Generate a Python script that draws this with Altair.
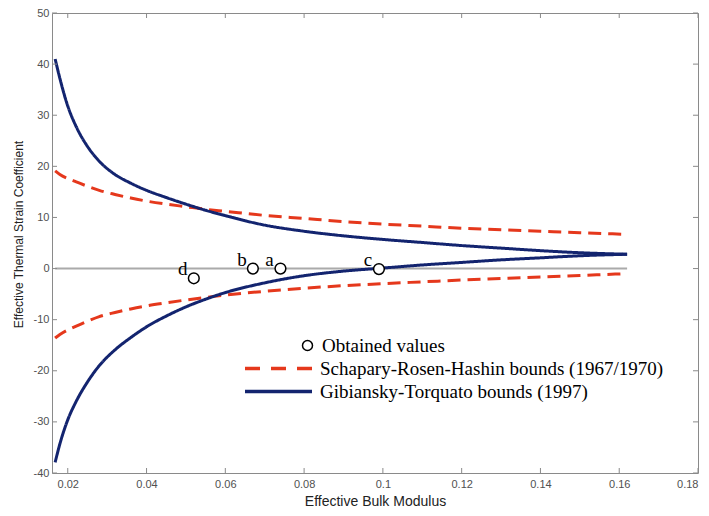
import altair as alt
import pandas as pd

# ---- data ----
X = [0.0168, 0.018, 0.02, 0.022, 0.025, 0.028, 0.032, 0.036, 0.04, 0.045, 0.05,
     0.055, 0.06, 0.07, 0.08, 0.09, 0.1, 0.11, 0.12, 0.13, 0.14, 0.15, 0.162]
GT_UPPER = [41.0, 37.2, 31.8, 28.0, 23.9, 21.0, 18.4, 16.7, 15.3, 13.9, 12.6,
            11.4, 10.35, 8.5, 7.3, 6.4, 5.7, 5.1, 4.5, 4.0, 3.5, 3.1, 2.8]
GT_LOWER = [-37.9, -34.3, -29.6, -26.2, -22.2, -19.0, -15.9, -13.5, -11.4, -9.3, -7.5,
            -6.0, -4.7, -2.8, -1.4, -0.5, 0.1, 0.7, 1.2, 1.7, 2.1, 2.5, 2.8]
SRH_UPPER = [19.1, 18.4, 17.6, 17.0, 16.1, 15.3, 14.5, 13.8, 13.2, 12.6, 12.1,
             11.6, 11.2, 10.4, 9.8, 9.2, 8.7, 8.3, 7.9, 7.6, 7.3, 7.0, 6.7]
SRH_LOWER = [-13.6, -12.9, -12.0, -11.3, -10.3, -9.4, -8.6, -7.9, -7.3, -6.7, -6.15,
             -5.65, -5.2, -4.45, -3.85, -3.35, -2.95, -2.6, -2.25, -1.95, -1.65, -1.35, -1.0]

PT_LABELS = ["a", "b", "c", "d"]
PT_X = [0.074, 0.067, 0.099, 0.052]
PT_Y = [0.0, 0.0, -0.1, -1.9]

X_TICKS = [0.02, 0.04, 0.06, 0.08, 0.1, 0.12, 0.14, 0.16, 0.18]
Y_TICKS = [-40, -30, -20, -10, 0, 10, 20, 30, 40, 50]

SRH = "Schapary-Rosen-Hashin bounds (1967/1970)"
GT = "Gibiansky-Torquato bounds (1997)"
OBT = "Obtained values"

RED = "#e5381c"
BLUE = "#13246f"
GREY = "#8a8a8a"

W, H = 646, 460

rows = []
for name, series, ys in [("srh_u", SRH, SRH_UPPER), ("srh_l", SRH, SRH_LOWER),
                         ("gt_u", GT, GT_UPPER), ("gt_l", GT, GT_LOWER)]:
    for i, (xv, yv) in enumerate(zip(X, ys)):
        rows.append({"curve": name, "series": series, "series2": series, "x": xv, "y": yv, "i": i})
curves = pd.DataFrame(rows)
pts = pd.DataFrame({"label": PT_LABELS, "x": PT_X, "y": PT_Y, "ptser": OBT})
zero = pd.DataFrame({"x": [X[0]], "x2": [X[-1]], "y": [0]})
xt = pd.DataFrame({"t": X_TICKS})
yt = pd.DataFrame({"t": Y_TICKS})

xs = alt.Scale(domain=[0.016, 0.18], nice=False, zero=False)
ys_ = alt.Scale(domain=[-40, 50], nice=False, zero=False)
x_axis = alt.Axis(values=X_TICKS, format="~g", title="Effective Bulk Modulus", grid=False,
                  ticks=False, domain=False, labelPadding=5, titlePadding=5, titleFontSize=14)
y_axis = alt.Axis(values=Y_TICKS, labelExpr="'' + datum.value",
                  title="Effective Thermal Strain Coefficient", grid=False,
                  ticks=False, domain=False, labelPadding=3, titlePadding=8,
                  titleFontSize=12, titleY=221)

leg_common = dict(title=None, orient="none", padding=0, symbolType="stroke", symbolSize=4489,
                  symbolStrokeWidth=3.5, labelFont="Liberation Serif", labelFontSize=19,
                  labelColor="black", labelLimit=600, labelOffset=6)

zero_rule = alt.Chart(zero).mark_rule(color="#aaaaaa", strokeWidth=2).encode(
    x=alt.X("x:Q", scale=xs, axis=x_axis),
    x2="x2:Q",
    y=alt.Y("y:Q", scale=ys_, axis=y_axis),
)

lines = alt.Chart(curves).mark_line(strokeWidth=3, interpolate="monotone").encode(
    x=alt.X("x:Q", scale=xs, axis=x_axis),
    y=alt.Y("y:Q", scale=ys_, axis=y_axis),
    detail="curve:N",
    order="i:Q",
    color=alt.Color("series:N", scale=alt.Scale(domain=[SRH, GT], range=[RED, BLUE]),
                    legend=alt.Legend(values=[SRH], legendX=191, legendY=320,
                                      symbolDash=[15, 11], **leg_common)),
    strokeDash=alt.StrokeDash("series2:N",
                              scale=alt.Scale(domain=[GT, SRH], range=[[1, 0], [13, 7]]),
                              legend=alt.Legend(values=[GT], legendX=191, legendY=343,
                                                symbolStrokeColor=BLUE, **leg_common)),
)

points = alt.Chart(pts).mark_point(size=115, fill="white", fillOpacity=1,
                                   strokeWidth=1.5, opacity=1, shape="circle").encode(
    x=alt.X("x:Q", scale=xs, axis=x_axis),
    y=alt.Y("y:Q", scale=ys_, axis=y_axis),
    stroke=alt.Stroke("ptser:N", scale=alt.Scale(domain=[OBT], range=["black"]),
                      legend=alt.Legend(title=None, orient="none", legendX=246, legendY=323,
                                        padding=0, symbolType="circle", symbolSize=100,
                                        symbolFillColor="white", symbolStrokeWidth=1.5,
                                        symbolOpacity=1,
                                        labelFont="Liberation Serif", labelFontSize=19,
                                        labelColor="black", labelLimit=600, labelOffset=5)),
)

labels = alt.Chart(pts).mark_text(font="Liberation Serif", fontSize=19, color="black",
                                  dx=-11, dy=-9).encode(
    x=alt.X("x:Q", scale=xs, axis=x_axis),
    y=alt.Y("y:Q", scale=ys_, axis=y_axis),
    text="label:N",
)

bottom_ticks = alt.Chart(xt).mark_rule(color=GREY).encode(
    x=alt.X("t:Q", scale=xs, axis=x_axis), y=alt.value(H), y2=alt.value(H - 5))
top_ticks = alt.Chart(xt).mark_rule(color=GREY).encode(
    x=alt.X("t:Q", scale=xs, axis=x_axis), y=alt.value(0), y2=alt.value(5))
left_ticks = alt.Chart(yt).mark_rule(color=GREY).encode(
    y=alt.Y("t:Q", scale=ys_, axis=y_axis), x=alt.value(0), x2=alt.value(5))
right_ticks = alt.Chart(yt).mark_rule(color=GREY).encode(
    y=alt.Y("t:Q", scale=ys_, axis=y_axis), x=alt.value(W), x2=alt.value(W - 5))

chart = alt.layer(
    zero_rule, lines, points, labels, bottom_ticks, top_ticks, left_ticks, right_ticks
).properties(
    width=W, height=H,
    autosize=alt.AutoSizeParams(type="none"),
    padding={"left": 44, "top": 5, "right": 3, "bottom": 35},
).configure_view(
    stroke=GREY, strokeWidth=1
).configure_axis(
    labelFont="Liberation Sans", labelFontSize=11, labelColor="#505050",
    titleFont="Liberation Sans", titleFontWeight="normal", titleColor="#222222",
)

chart.save("out.html", embed_options={"renderer": "svg", "actions": False})
